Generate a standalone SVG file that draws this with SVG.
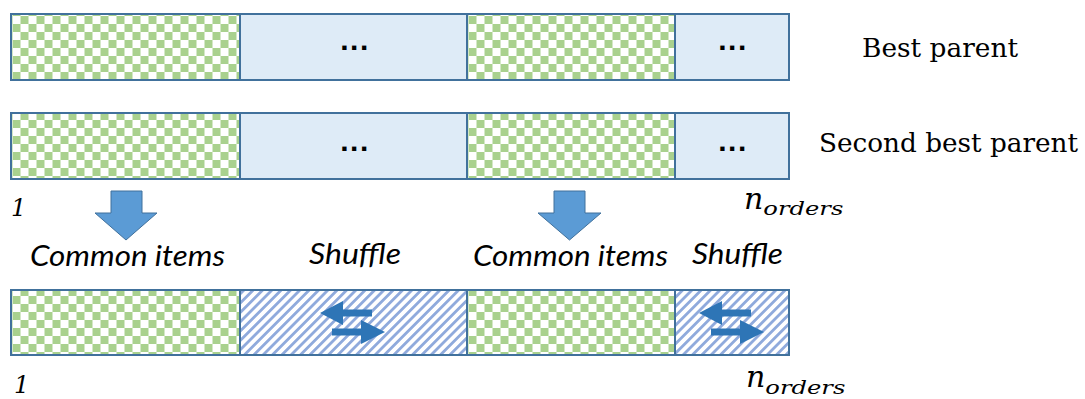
<svg xmlns="http://www.w3.org/2000/svg" width="1085" height="399" viewBox="0 0 1085 399">
  <defs>
    <!-- green checkerboard for common items -->
    <pattern id="checker" patternUnits="userSpaceOnUse" x="4.5" y="0" width="16" height="16">
      <rect width="16" height="16" fill="#ffffff"/>
      <rect width="8" height="8" fill="#A9D18E"/>
      <rect x="8" y="8" width="8" height="8" fill="#A9D18E"/>
    </pattern>
    <!-- diagonal hatching for shuffled blocks -->
    <pattern id="hatch" patternUnits="userSpaceOnUse" width="6.6" height="6.6" patternTransform="rotate(45)">
      <rect width="6.6" height="6.6" fill="#ffffff"/>
      <rect width="2.8" height="6.6" fill="#8FAADC"/>
    </pattern>
    <!-- pair of opposing arrows marking a shuffle -->
    <g id="swap">
      <polygon points="320,313 343,301 343,309.5 372,309.5 372,316.5 343,316.5 343,325"/>
      <polygon points="385,332 361,320 361,328.5 332,328.5 332,335.5 361,335.5 361,344"/>
    </g>
    <style>
      .seg { stroke: #41719C; stroke-width: 2; }
      .common { fill: url(#checker); }
      .gap { fill: #DEEBF7; }
      .shuf { fill: url(#hatch); }
      .dots { font-family: "Liberation Sans", Arial, sans-serif; font-weight: bold; font-size: 30px; letter-spacing: 1.5px; text-anchor: middle; fill: #000; }
      .name { font-family: "DejaVu Serif", "Liberation Serif", serif; font-size: 26px; fill: #000; }
      .lbl { font-family: Lato, "Open Sans", sans-serif; font-style: italic; font-size: 28px; fill: #000; }
      .math { font-family: "DejaVu Serif", "Liberation Serif", serif; font-style: italic; fill: #000; }
      .down { fill: #5B9BD5; stroke: #41719C; stroke-width: 1; }
      .swapc { fill: #2E75B6; }
    </style>
  </defs>

  <rect width="1085" height="399" fill="#ffffff"/>

  <!-- best parent -->
  <g id="best-parent">
    <g id="bp-common-1"><rect class="seg common" x="11" y="14" width="229" height="66"/></g>
    <g id="bp-rest-1"><rect class="seg gap" x="240" y="14" width="227" height="66"/><text class="dots" x="355" y="50">...</text></g>
    <g id="bp-common-2"><rect class="seg common" x="467" y="14" width="208" height="66"/></g>
    <g id="bp-rest-2"><rect class="seg gap" x="675" y="14" width="114" height="66"/><text class="dots" x="733" y="50">...</text></g>
    <text class="name" x="862" y="57" textLength="156" lengthAdjust="spacingAndGlyphs">Best parent</text>
  </g>

  <!-- second best parent -->
  <g id="second-parent">
    <g id="sp-common-1"><rect class="seg common" x="11" y="113" width="229" height="66"/></g>
    <g id="sp-rest-1"><rect class="seg gap" x="240" y="113" width="227" height="66"/><text class="dots" x="355" y="151">...</text></g>
    <g id="sp-common-2"><rect class="seg common" x="467" y="113" width="208" height="66"/></g>
    <g id="sp-rest-2"><rect class="seg gap" x="675" y="113" width="114" height="66"/><text class="dots" x="733" y="151">...</text></g>
    <text class="name" x="819" y="152" textLength="259" lengthAdjust="spacingAndGlyphs">Second best parent</text>
    <text class="math" x="11" y="216" font-size="24">1</text>
    <text class="math" x="744" y="209" font-size="30">n<tspan font-size="19" dy="6" textLength="80" lengthAdjust="spacingAndGlyphs">orders</tspan></text>
  </g>

  <!-- labels -->
  <g id="labels">
    <text class="lbl" x="30" y="266" textLength="195" lengthAdjust="spacingAndGlyphs">Common items</text>
    <text class="lbl" x="309" y="264" textLength="92" lengthAdjust="spacingAndGlyphs">Shuffle</text>
    <text class="lbl" x="473" y="266" textLength="195" lengthAdjust="spacingAndGlyphs">Common items</text>
    <text class="lbl" x="692" y="264" textLength="91" lengthAdjust="spacingAndGlyphs">Shuffle</text>
  </g>

  <!-- child -->
  <g id="child">
    <g id="ch-common-1"><rect class="seg common" x="11" y="290" width="229" height="65"/></g>
    <g id="ch-shuffle-1"><rect class="seg shuf" x="240" y="290" width="227" height="65"/><use href="#swap" class="swapc"/></g>
    <g id="ch-common-2"><rect class="seg common" x="467" y="290" width="208" height="65"/></g>
    <g id="ch-shuffle-2"><rect class="seg shuf" x="675" y="290" width="114" height="65"/><use href="#swap" class="swapc" transform="translate(379,0)"/></g>
    <text class="math" x="14" y="393" font-size="24">1</text>
    <text class="math" x="746" y="387" font-size="30">n<tspan font-size="19" dy="7" textLength="80" lengthAdjust="spacingAndGlyphs">orders</tspan></text>
  </g>

  <!-- connectors: block arrows from parents to child -->
  <g id="connectors">
    <polygon class="down" points="111,191 142,191 142,213 157,213 126,240 95,213 111,213"/>
    <polygon class="down" points="554,191 585,191 585,213 601,213 569.5,240 538,213 554,213"/>
  </g>
</svg>
